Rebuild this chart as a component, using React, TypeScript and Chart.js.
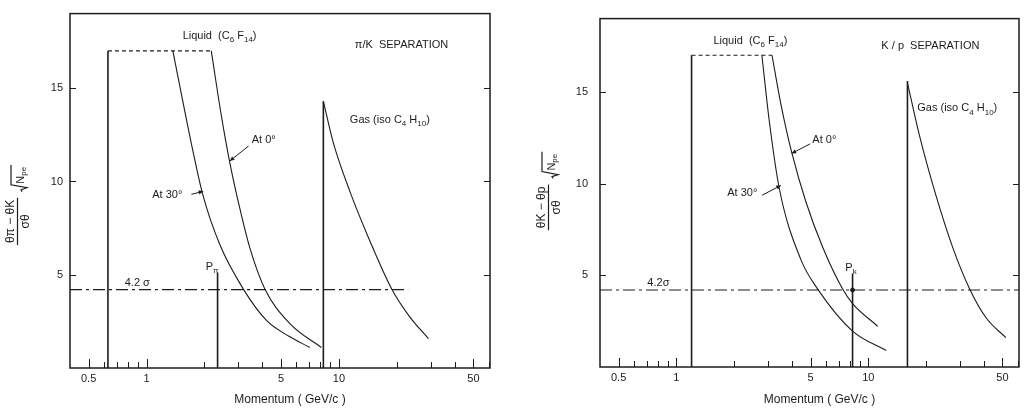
import React, { useEffect, useRef } from 'react';
import { Chart, registerables } from 'chart.js';

Chart.register(...registerables);

// ---------- shared axis data ----------
const xTickLabels = [0.5, 1, 5, 10, 50];
const xMinorTicks = [0.5, 0.6, 0.7, 0.8, 0.9, 1, 2, 3, 4, 5, 6, 7, 8, 9, 10, 20, 30, 40, 50, 60];
const yTickValues = [5, 10, 15];
const xMin = 0.4;
const xMax = 61;
const yMin = 0;
const yMax = 19;

// ---------- π/K separation panel ----------
const piK_liquidThresholdP = [0.63, 0.63];
const piK_liquidThresholdS = [0, 17];
const piK_liquidTopP = [0.63, 2.17];
const piK_liquidTopS = [17, 17];
const piK_at30P = [1.37, 1.55, 1.74, 1.96, 2.4, 3.18, 4.2, 5.5, 7.06];
const piK_at30S = [17.0, 14.2, 11.65, 9.29, 6.63, 4.24, 2.55, 1.7, 1.1];
const piK_at0P = [2.17, 2.45, 2.71, 3.05, 3.44, 4.12, 5.56, 8.1];
const piK_at0S = [17.0, 13.5, 11.0, 8.58, 6.45, 4.24, 2.38, 1.1];
const piK_gasSpikeP = [8.3, 8.3];
const piK_gasSpikeS = [0, 14.3];
const piK_gasP = [8.3, 9.34, 11.4, 14.5, 18.8, 23.4, 29.2];
const piK_gasS = [14.3, 12.1, 9.47, 6.8, 4.24, 2.73, 1.58];
const piK_sigmaP = [0.4, 22.9];
const piK_sigmaS = [4.2, 4.2];
const piK_markerP = [2.34, 2.34];
const piK_markerS = [0, 5.1];

// ---------- K/p separation panel ----------
const Kp_liquidThresholdP = [1.2, 1.2];
const Kp_liquidThresholdS = [0, 17];
const Kp_liquidTopP = [1.2, 3.15];
const Kp_liquidTopS = [17, 17];
const Kp_at30P = [2.79, 3.05, 3.44, 4.46, 5.45, 8.28, 12.4];
const Kp_at30S = [17.0, 13.4, 9.72, 5.84, 4.25, 1.96, 0.9];
const Kp_at0P = [3.15, 3.51, 4.0, 4.73, 5.78, 7.35, 8.28, 11.2];
const Kp_at0S = [17.0, 14.3, 11.66, 9.01, 6.54, 4.25, 3.46, 2.22];
const Kp_gasSpikeP = [16.0, 16.0];
const Kp_gasSpikeS = [0, 15.6];
const Kp_gasP = [16.0, 18.4, 22.5, 27.5, 33.6, 41.0, 52.1];
const Kp_gasS = [15.5, 12.7, 9.37, 6.54, 4.3, 2.7, 1.6];
const Kp_sigmaP = [0.4, 61];
const Kp_sigmaS = [4.2, 4.2];
const Kp_markerP = [8.28, 8.28];
const Kp_markerS = [0, 5.1];

const ink = '#1c1c1c';
const family = '"Liberation Sans", Arial, sans-serif';

const pts = (p: number[], s: number[]) => p.map((v, i) => ({ x: v, y: s[i] }));

type Run = { t: string; sub?: boolean };
type Label = { x: number; y: number; runs: Run[] };
type Arrow = { from: [number, number]; to: [number, number] };

function line(data: { x: number; y: number }[], extra: any = {}) {
  return {
    data,
    showLine: true,
    borderColor: ink,
    backgroundColor: ink,
    borderWidth: 1.1,
    pointRadius: 0,
    fill: false,
    tension: 0,
    ...extra,
  };
}

function drawRuns(ctx: CanvasRenderingContext2D, runs: Run[], x: number, y: number, size: number) {
  let cx = x;
  for (const r of runs) {
    if (r.sub) {
      ctx.font = `${size - 3}px ${family}`;
      ctx.fillText(r.t, cx, y + 4);
    } else {
      ctx.font = `${size}px ${family}`;
      ctx.fillText(r.t, cx, y);
    }
    cx += ctx.measureText(r.t).width;
  }
  return cx - x;
}

const decorPlugin = {
  id: 'decor',
  afterDraw(chart: any, _args: any, opts: any) {
    const { ctx, chartArea, scales } = chart;
    const { left, right, top, bottom } = chartArea;
    const xs = scales.x;
    const ys = scales.y;
    ctx.save();
    ctx.strokeStyle = ink;
    ctx.fillStyle = ink;
    // frame
    ctx.lineWidth = 1.5;
    ctx.strokeRect(left, top, right - left, bottom - top);
    // inward tick marks
    ctx.lineWidth = 1;
    ctx.beginPath();
    for (const v of xMinorTicks) {
      const px = Math.round(xs.getPixelForValue(v)) + 0.5;
      if (px < left || px > right) continue;
      const len = xTickLabels.includes(v) ? 9 : 6;
      ctx.moveTo(px, bottom);
      ctx.lineTo(px, bottom - len);
    }
    for (const v of yTickValues) {
      const py = Math.round(ys.getPixelForValue(v)) + 0.5;
      ctx.moveTo(left, py);
      ctx.lineTo(left + 6, py);
      ctx.moveTo(right, py);
      ctx.lineTo(right - 6, py);
    }
    ctx.stroke();

    // annotation labels
    ctx.textBaseline = 'middle';
    ctx.textAlign = 'left';
    for (const l of opts.labels as Label[]) {
      drawRuns(ctx, l.runs, xs.getPixelForValue(l.x), ys.getPixelForValue(l.y), 11);
    }
    // arrows
    for (const a of opts.arrows as Arrow[]) {
      const x1 = xs.getPixelForValue(a.from[0]);
      const y1 = ys.getPixelForValue(a.from[1]);
      const x2 = xs.getPixelForValue(a.to[0]);
      const y2 = ys.getPixelForValue(a.to[1]);
      ctx.beginPath();
      ctx.moveTo(x1, y1);
      ctx.lineTo(x2, y2);
      ctx.stroke();
      const ang = Math.atan2(y2 - y1, x2 - x1);
      ctx.beginPath();
      ctx.moveTo(x2, y2);
      ctx.lineTo(x2 - 5 * Math.cos(ang - 0.45), y2 - 5 * Math.sin(ang - 0.45));
      ctx.lineTo(x2 - 5 * Math.cos(ang + 0.45), y2 - 5 * Math.sin(ang + 0.45));
      ctx.closePath();
      ctx.fill();
    }

    // x-axis title
    ctx.textAlign = 'center';
    ctx.font = `12px ${family}`;
    ctx.fillText('Momentum ( GeV/c )', (left + right) / 2 + opts.titleShift, 400);

    // y-axis title: rotated fraction with square root
    const cx = left + opts.yTitleDx;
    const cy = opts.yTitleY;
    ctx.translate(cx, cy);
    ctx.rotate(-Math.PI / 2);
    ctx.font = `12px ${family}`;
    const numW = ctx.measureText(opts.num).width;
    const denW = ctx.measureText(opts.den).width;
    const fw = Math.max(numW, denW) + 4;
    ctx.font = `11px ${family}`;
    const nW = ctx.measureText('N').width;
    ctx.font = `8px ${family}`;
    const peW = ctx.measureText('pe').width;
    const sw = 8 + nW + peW + 2;
    const W = fw + 6 + sw;
    const x0 = -W / 2;
    // fraction
    ctx.textAlign = 'center';
    ctx.textBaseline = 'alphabetic';
    ctx.font = `12px ${family}`;
    ctx.fillText(opts.num, x0 + fw / 2, -3);
    ctx.textBaseline = 'top';
    ctx.fillText(opts.den, x0 + fw / 2, 3);
    ctx.lineWidth = 1.2;
    ctx.beginPath();
    ctx.moveTo(x0, 0.5);
    ctx.lineTo(x0 + fw, 0.5);
    ctx.stroke();
    // sqrt
    const sx = x0 + fw + 6;
    ctx.beginPath();
    ctx.moveTo(sx, 5);
    ctx.lineTo(sx + 2, 4);
    ctx.lineTo(sx + 4, 10);
    ctx.lineTo(sx + 7, -6);
    ctx.lineTo(sx + sw, -6);
    ctx.stroke();
    ctx.textAlign = 'left';
    ctx.textBaseline = 'alphabetic';
    ctx.font = `11px ${family}`;
    ctx.fillText('N', sx + 8, 7);
    ctx.font = `8px ${family}`;
    ctx.fillText('pe', sx + 8 + nW, 9);
    ctx.restore();
  },
};

type PanelCfg = {
  datasets: any[];
  labels: Label[];
  arrows: Arrow[];
  yWidth: number;
  xHeight: number;
  padding: { left: number; right: number; top: number; bottom: number };
  yPad: number;
  num: string;
  den: string;
  yTitleDx: number;
  yTitleY: number;
  titleShift: number;
};

function buildConfig(p: PanelCfg): any {
  return {
    type: 'line',
    data: { datasets: p.datasets },
    options: {
      responsive: false,
      animation: false,
      devicePixelRatio: 1,
      layout: { padding: p.padding },
      plugins: {
        legend: { display: false },
        tooltip: { enabled: false },
        decor: {
          labels: p.labels,
          arrows: p.arrows,
          num: p.num,
          den: p.den,
          yTitleDx: p.yTitleDx,
          yTitleY: p.yTitleY,
          titleShift: p.titleShift,
        },
      },
      scales: {
        x: {
          type: 'logarithmic',
          min: xMin,
          max: xMax,
          grid: { display: false, drawTicks: false },
          border: { display: false },
          afterBuildTicks: (s: any) => {
            s.ticks = xTickLabels.map((v) => ({ value: v }));
          },
          afterFit: (s: any) => {
            s.height = p.xHeight;
          },
          ticks: {
            autoSkip: false,
            maxRotation: 0,
            padding: 4,
            color: ink,
            font: { family, size: 11 },
            callback: (v: any) => String(v),
          },
        },
        y: {
          type: 'linear',
          min: yMin,
          max: yMax,
          grid: { display: false, drawTicks: false },
          border: { display: false },
          afterBuildTicks: (s: any) => {
            s.ticks = yTickValues.map((v) => ({ value: v }));
          },
          afterFit: (s: any) => {
            s.width = p.yWidth;
          },
          ticks: {
            padding: p.yPad,
            color: ink,
            font: { family, size: 11 },
            callback: (v: any) => String(v),
          },
        },
      },
    },
    plugins: [decorPlugin],
  };
}

const dashed = { borderDash: [4, 3] };
const dashDot = { borderDash: [12, 4, 3, 4] };
const smooth = { cubicInterpolationMode: 'monotone' };
const thick = { borderWidth: 1.6 };

const piKPanel: PanelCfg = {
  datasets: [
    line(pts(piK_liquidThresholdP, piK_liquidThresholdS), thick),
    line(pts(piK_liquidTopP, piK_liquidTopS), dashed),
    line(pts(piK_at30P, piK_at30S), smooth),
    line(pts(piK_at0P, piK_at0S), smooth),
    line(pts(piK_gasSpikeP, piK_gasSpikeS), thick),
    line(pts(piK_gasP, piK_gasS), smooth),
    line(pts(piK_sigmaP, piK_sigmaS), dashDot),
    line(pts(piK_markerP, piK_markerS), thick),
  ],
  labels: [
    { x: 1.54, y: 17.8, runs: [{ t: 'Liquid  (C' }, { t: '6', sub: true }, { t: ' F' }, { t: '14', sub: true }, { t: ')' }] },
    { x: 12.1, y: 17.3, runs: [{ t: 'π/K  SEPARATION' }] },
    { x: 11.4, y: 13.3, runs: [{ t: 'Gas (iso C' }, { t: '4', sub: true }, { t: ' H' }, { t: '10', sub: true }, { t: ')' }] },
    { x: 3.52, y: 12.2, runs: [{ t: 'At 0°' }] },
    { x: 1.07, y: 9.26, runs: [{ t: 'At 30°' }] },
    { x: 2.03, y: 5.43, runs: [{ t: 'P' }, { t: 'π', sub: true }] },
    { x: 0.77, y: 4.57, runs: [{ t: '4.2 σ' }] },
  ],
  arrows: [
    { from: [3.39, 11.9], to: [2.71, 11.1] },
    { from: [1.71, 9.31], to: [1.97, 9.47] },
  ],
  yWidth: 70,
  xHeight: 42,
  padding: { left: 0, right: 25, top: 11, bottom: 0 },
  yPad: 7,
  num: 'θπ − θK',
  den: 'σθ',
  yTitleDx: -53,
  yTitleY: 205,
  titleShift: 10,
};

const KpPanel: PanelCfg = {
  datasets: [
    line(pts(Kp_liquidThresholdP, Kp_liquidThresholdS), thick),
    line(pts(Kp_liquidTopP, Kp_liquidTopS), dashed),
    line(pts(Kp_at30P, Kp_at30S), smooth),
    line(pts(Kp_at0P, Kp_at0S), smooth),
    line(pts(Kp_gasSpikeP, Kp_gasSpikeS), thick),
    line(pts(Kp_gasP, Kp_gasS), smooth),
    line(pts(Kp_sigmaP, Kp_sigmaS), dashDot),
    line(pts(Kp_markerP, Kp_markerS), thick),
    { data: [{ x: Kp_markerP[0], y: Kp_sigmaS[0] }], showLine: false, pointRadius: 2, backgroundColor: ink, borderColor: ink },
  ],
  labels: [
    { x: 1.56, y: 17.8, runs: [{ t: 'Liquid  (C' }, { t: '6', sub: true }, { t: ' F' }, { t: '14', sub: true }, { t: ')' }] },
    { x: 11.7, y: 17.5, runs: [{ t: 'K / p  SEPARATION' }] },
    { x: 18.0, y: 14.1, runs: [{ t: 'Gas (iso C' }, { t: '4', sub: true }, { t: ' H' }, { t: '10', sub: true }, { t: ')' }] },
    { x: 5.11, y: 12.4, runs: [{ t: 'At 0°' }] },
    { x: 1.84, y: 9.47, runs: [{ t: 'At 30°' }] },
    { x: 7.59, y: 5.4, runs: [{ t: 'P' }, { t: 'k', sub: true }] },
    { x: 0.706, y: 4.6, runs: [{ t: '4.2σ' }] },
  ],
  arrows: [
    { from: [4.98, 12.17], to: [3.99, 11.65] },
    { from: [2.8, 9.37], to: [3.5, 9.9] },
  ],
  yWidth: 85,
  xHeight: 43,
  padding: { left: 0, right: 8, top: 8, bottom: 0 },
  yPad: 12,
  num: 'θK − θp',
  den: 'σθ',
  yTitleDx: -52,
  yTitleY: 191,
  titleShift: 10,
};

function Panel({ cfg, left, width }: { cfg: PanelCfg; left: number; width: number }) {
  const ref = useRef<HTMLCanvasElement>(null);
  useEffect(() => {
    const chart = new Chart(ref.current as HTMLCanvasElement, buildConfig(cfg));
    return () => chart.destroy();
  }, [cfg]);
  return (
    <canvas
      ref={ref}
      width={width}
      height={410}
      style={{ position: 'absolute', left, top: 0, width, height: 410, display: 'block' }}
    />
  );
}

export default function App() {
  return (
    <div style={{ position: 'absolute', left: 0, top: 0, width: 1027, height: 410, background: '#fff', overflow: 'hidden' }}>
      <Panel cfg={piKPanel} left={0} width={515} />
      <Panel cfg={KpPanel} left={515} width={512} />
    </div>
  );
}
